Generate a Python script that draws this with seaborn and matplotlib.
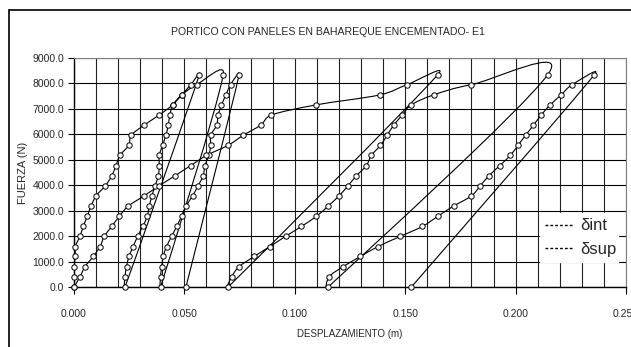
import numpy as np
import pandas as pd
import matplotlib
matplotlib.use("Agg")
import matplotlib.pyplot as plt
from matplotlib.path import Path
from matplotlib.patches import PathPatch
from matplotlib.lines import Line2D
from matplotlib.ticker import FormatStrFormatter, MultipleLocator
import seaborn as sns

# carga aplicada en cada paso (N)
fuerza = [0, 400, 800, 1200, 1590, 1990, 2380, 2780, 3180, 3580, 3980,
          4370, 4770, 5170, 5570, 5960, 6360, 6760, 7160, 7550, 7950, 8350]

# desplazamiento intermedio (m), tres ciclos de carga
dint_c1 = [0.0, 0.0, 0.0, 0.0006, 0.0006, 0.0027, 0.0042, 0.0060, 0.0077, 0.0100, 0.0142,
           0.0171, 0.0190, 0.0208, 0.0248, 0.0259, 0.0317, 0.0386, 0.0447, 0.0487, 0.0529, 0.0568]
dint_c2 = [0.0231, 0.0231, 0.0238, 0.0249, 0.0268, 0.0288, 0.0311, 0.0332, 0.0341, 0.0353, 0.0367,
           0.0382, 0.0386, 0.0386, 0.0401, 0.0416, 0.0427, 0.0434, 0.0448, 0.0489, 0.0555, 0.0676]
dint_c3 = [0.0392, 0.0392, 0.0397, 0.0404, 0.0419, 0.0442, 0.0465, 0.0487, 0.0507, 0.0537, 0.0562,
           0.0585, 0.0593, 0.0611, 0.0619, 0.0619, 0.0646, 0.0653, 0.0668, 0.0688, 0.0709, 0.0748]
dint_residual = 0.0507

# desplazamiento superior (m)
dsup_c1 = [0.0, 0.0027, 0.0050, 0.0087, 0.0118, 0.0137, 0.0171, 0.0205, 0.0246, 0.0317, 0.0386,
           0.0457, 0.0528, 0.0600, 0.0698, 0.0766, 0.0845, 0.0894, 0.1098, 0.1385, 0.1508, 0.1648]
dsup_c2 = [0.0698, 0.0714, 0.0748, 0.0816, 0.0887, 0.0958, 0.1030, 0.1098, 0.1151, 0.1200, 0.1241,
           0.1279, 0.1324, 0.1347, 0.1388, 0.1418, 0.1448, 0.1487, 0.1528, 0.1629, 0.1800, 0.2146]
dsup_c3 = [0.1151, 0.1155, 0.1219, 0.1297, 0.1377, 0.1478, 0.1578, 0.1648, 0.1719, 0.1800, 0.1840,
           0.1879, 0.1928, 0.1976, 0.2011, 0.2045, 0.2081, 0.2116, 0.2157, 0.2206, 0.2256, 0.2357]
dsup_residual = 0.1528


def serie(ciclos, residual):
    xs, ys = [], []
    for c in ciclos:
        xs += c
        ys += fuerza
    xs.append(residual)
    ys.append(0)
    return np.array(xs), np.array(ys, dtype=float)


def linea_suavizada(ax, x, y, **kw):
    # linea suavizada tipo excel (bezier) calculada en pixeles
    pts = ax.transData.transform(np.column_stack([x, y]))
    n = len(pts)
    verts = [pts[0]]
    codes = [Path.MOVETO]
    for i in range(n - 1):
        p0 = pts[max(i - 1, 0)]
        p1 = pts[i]
        p2 = pts[i + 1]
        p3 = pts[min(i + 2, n - 1)]
        d12 = np.hypot(*(p2 - p1))
        d02 = np.hypot(*(p2 - p0))
        d13 = np.hypot(*(p3 - p1))
        f0 = 1 / 6 if d02 == 0 else min(1 / 6, d12 / (2 * d02))
        f1 = 1 / 6 if d13 == 0 else min(1 / 6, d12 / (2 * d13))
        verts += [p1 + (p2 - p0) * f0, p2 - (p3 - p1) * f1, p2]
        codes += [Path.CURVE4] * 3
    verts = ax.transData.inverted().transform(np.array(verts))
    ax.add_patch(PathPatch(Path(verts, codes), fill=False, **kw))


xi, yi = serie([dint_c1, dint_c2, dint_c3], dint_residual)
xs, ys = serie([dsup_c1, dsup_c2, dsup_c3], dsup_residual)
df = pd.concat([pd.DataFrame({"x": xi, "F": yi, "serie": "int"}),
                pd.DataFrame({"x": xs, "F": ys, "serie": "sup"})])

sns.set_theme(style="white")
plt.rcParams["font.family"] = ["Liberation Sans", "DejaVu Sans"]

fig = plt.figure(figsize=(6.31, 3.47), dpi=100)
ax = fig.add_axes([74 / 631, 1 - 287 / 347, 552 / 631, 229 / 347])
ax.set_xlim(0, 0.25)
ax.set_ylim(0, 9000)

ax.xaxis.set_major_locator(MultipleLocator(0.05))
ax.xaxis.set_minor_locator(MultipleLocator(0.01))
ax.yaxis.set_major_locator(MultipleLocator(1000))
ax.xaxis.set_major_formatter(FormatStrFormatter("%.3f"))
ax.yaxis.set_major_formatter(FormatStrFormatter("%.1f"))
ax.grid(True, which="both", axis="x", color="#222222", lw=0.8)
ax.grid(True, which="major", axis="y", color="black", lw=0.8)
ax.set_axisbelow(True)

ax.tick_params(axis="x", which="major", direction="out", length=5, width=0.8,
               color="black", labelsize=7.5, pad=11, bottom=True)
ax.tick_params(axis="x", which="minor", length=0)
ax.tick_params(axis="y", direction="out", length=4, width=0.8, color="black",
               labelsize=7.5, pad=3, left=True)

for lado in ["left", "bottom"]:
    ax.spines[lado].set_color("black")
    ax.spines[lado].set_linewidth(1.0)
for lado in ["top", "right"]:
    ax.spines[lado].set_color("#808080")
    ax.spines[lado].set_linewidth(0.8)

linea_suavizada(ax, xi, yi, color="black", lw=0.8, zorder=2)
linea_suavizada(ax, xs, ys, color="black", lw=0.8, zorder=2)

sns.scatterplot(data=df, x="x", y="F", marker="o", s=15, color="white",
                edgecolor="black", linewidth=0.7, legend=False, zorder=3,
                clip_on=False, ax=ax)

ax.set_xlabel("DESPLAZAMIENTO (m)", fontsize=7, labelpad=7)
ax.set_ylabel("FUERZA (N)", fontsize=8, labelpad=3)
fig.text(0.5 * (175 + 480) / 631, 1 - 32 / 347,
         "PORTICO CON PANELES EN BAHAREQUE ENCEMENTADO- E1",
         ha="center", va="center", fontsize=7.6)

handles = [Line2D([], [], color="black", lw=1, ls=(0, (2, 1.5))),
           Line2D([], [], color="black", lw=1, ls=(0, (2, 1.5)))]
leg = ax.legend(handles, ["δint", "δsup"], loc="lower left",
                bbox_to_anchor=(0.83, 0.074, 0.17, 0.262), mode="expand",
                fontsize=12, frameon=True, fancybox=False, handlelength=1.6,
                handletextpad=0.5, borderpad=0.3, labelspacing=0.5)
leg.get_frame().set_facecolor("white")
leg.get_frame().set_edgecolor("white")
leg.get_frame().set_alpha(1)

# borde del area del grafico
fig.add_artist(Line2D([9 / 631, 9 / 631], [1 - 10 / 347, 0], color="black", lw=1.2,
                      transform=fig.transFigure))
fig.add_artist(Line2D([9 / 631, 1], [1 - 10 / 347, 1 - 10 / 347], color="black", lw=1.2,
                      transform=fig.transFigure))

fig.savefig("out.png", dpi=100, facecolor="white")
